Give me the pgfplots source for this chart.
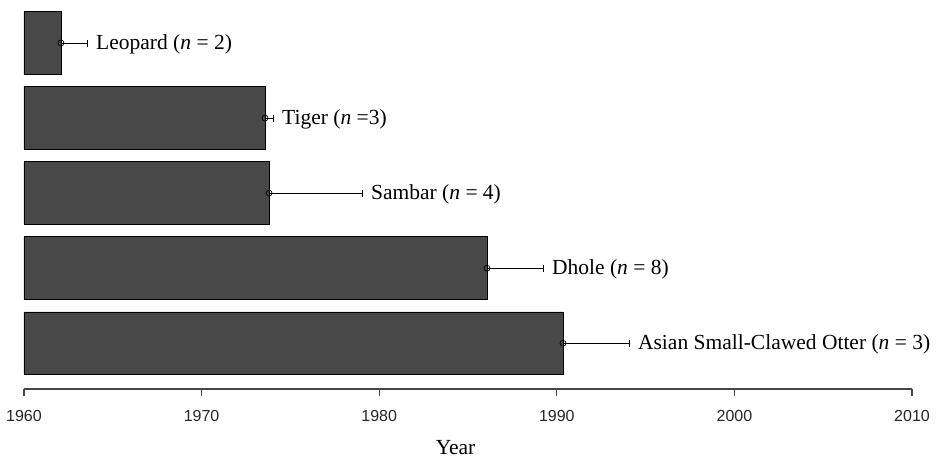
\documentclass[border=0pt]{standalone}
\usepackage{pgfplots}
\usepackage{pgfplotstable}
\usepackage{fontspec}
\setmainfont{Liberation Serif}
\setsansfont{Liberation Sans}
\pgfplotsset{compat=1.18}

\definecolor{barfill}{RGB}{72,72,72}
\definecolor{axisgray}{RGB}{70,70,70}

% y = row position (Otter at the bottom), year = mean, err = upper error
\pgfplotstableread{
y year err label
5 1962.08 1.47 {Leopard (\textit{n} = 2)}
4 1973.57 0.45 {Tiger (\textit{n} =3)}
3 1973.80 5.23 {Sambar (\textit{n} = 4)}
2 1986.07 3.15 {Dhole (\textit{n} = 8)}
1 1990.35 3.71 {Asian Small-Clawed Otter (\textit{n} = 3)}
}\data

\begin{document}
\begin{tikzpicture}
\useasboundingbox (-24pt,-70pt) rectangle (915pt,389pt);
\begin{axis}[
    at={(0,0)}, anchor=south west,
    scale only axis,
    width=888pt, height=389pt,
    xmin=0, xmax=50,
    ymin=0.391, ymax=5.573,
    axis x line*=bottom,
    axis y line=none,
    x axis line style={-, draw=axisgray, line width=1.2pt},
    xtick={0,10,20,30,40,50},
    xticklabels={1960,1970,1980,1990,2000,2010},
    tick align=outside,
    major tick length=7pt,
    xtick style={draw=axisgray, line width=1.2pt},
    xticklabel style={font=\sffamily\fontsize{16}{19}\selectfont, text=black!85, anchor=north, inner sep=0pt, yshift=-14pt},
    xlabel={Year},
    xlabel style={at={(axis description cs:0.486,0)}, anchor=base, yshift=-65.5pt, inner sep=0pt, font=\fontsize{21.5}{25}\selectfont},
    clip=false,
  ]
  \addplot[xbar, bar width=0.835, fill=barfill, draw=black, line width=0.8pt]
    table[x expr=\thisrow{year}-1960, y=y] {\data};
  \addplot[only marks, mark=o, mark size=3pt, mark options={black, line width=0.7pt},
    error bars/.cd, x dir=plus, x explicit,
    error mark=|,
    error bar style={black, line width=0.8pt},
    error mark options={black, mark size=3.5pt, line width=0.8pt}]
    table[x expr=\thisrow{year}-1960, y=y, x error=err] {\data};
  \addplot[only marks, mark=none, point meta=explicit symbolic,
    nodes near coords,
    nodes near coords style={anchor=base west, inner sep=0pt, xshift=9pt, yshift=-6.3pt, text=black, font=\fontsize{21.5}{25}\selectfont}]
    table[x expr=\thisrow{year}+\thisrow{err}-1960, y=y, meta=label] {\data};
\end{axis}
\end{tikzpicture}
\end{document}
